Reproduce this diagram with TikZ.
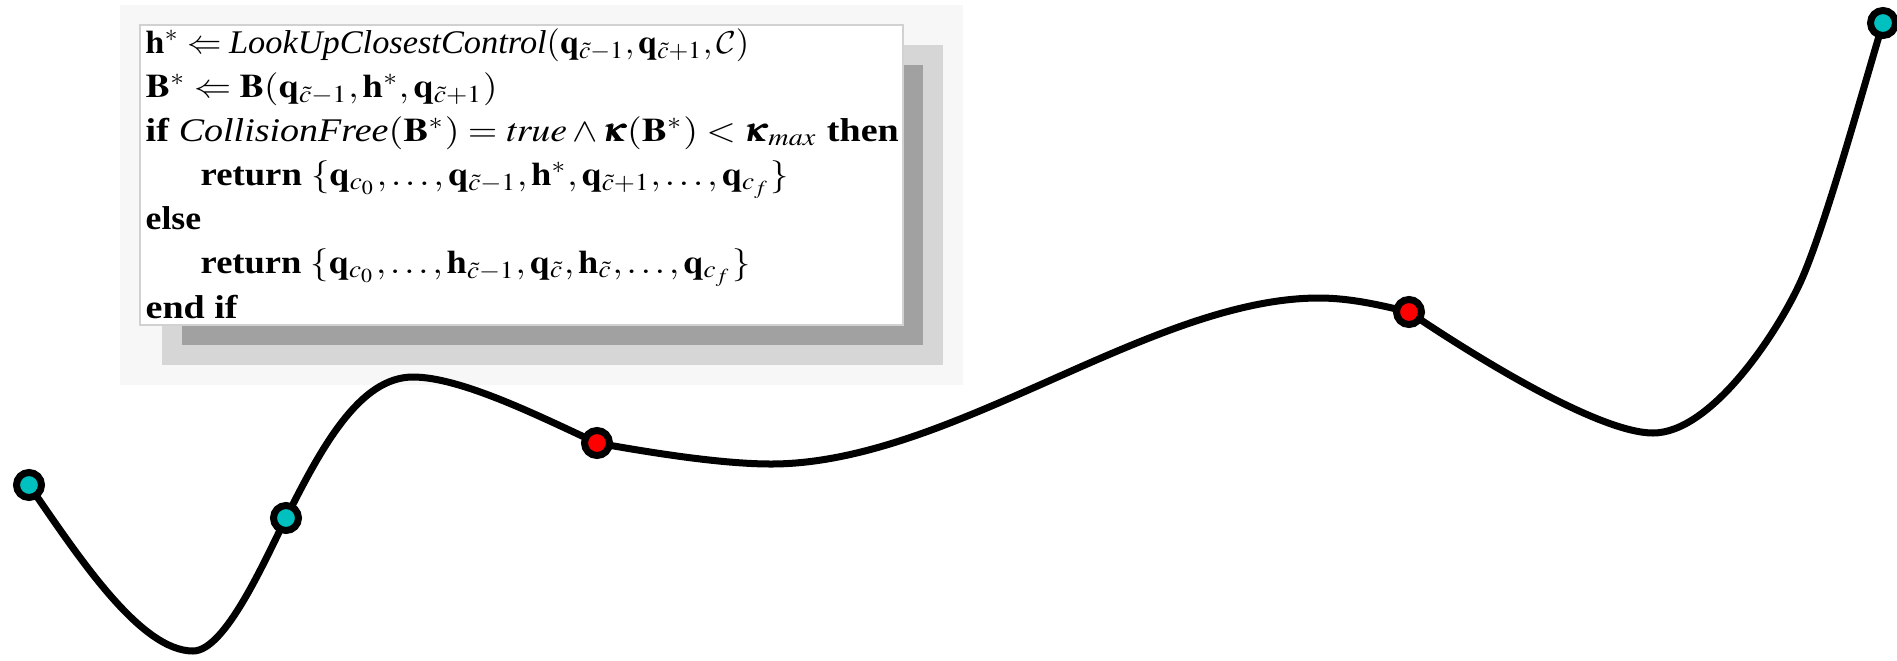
\documentclass[tikz,border=0pt]{standalone}
\usepackage{amsmath}
\usepackage{mathptmx}
\usepackage[no-math]{fontspec}
\setmainfont{Liberation Serif}
\DeclareMathAlphabet{\mathcal}{OMS}{cmsy}{m}{n}
\definecolor{dotcyan}{RGB}{0,192,192}
\definecolor{dotred}{RGB}{255,0,0}
\newcommand{\widen}[2]{\scalebox{#1}[1]{#2}}
\tikzset{
  ctrl/.style={circle,draw=black,line width=0.07cm,inner sep=0pt,minimum size=0.25cm},
  fixedctrl/.style={ctrl,fill=dotcyan},
  movedctrl/.style={ctrl,fill=dotred},
  algline/.style={anchor=base west,inner sep=0pt,font=\fontsize{9.4}{11}\selectfont},
  trajectory/.style={line width=0.07cm,line cap=round,line join=round}
}
\begin{document}
\begin{tikzpicture}[x=0.01cm,y=-0.01cm]
  \useasboundingbox (0,0) rectangle (1897,660);
  % shadow of the algorithm box
  \fill[black!3] (120,5) rectangle (963,385);
  \fill[black!16] (162,45) rectangle (943,365);
  \fill[black!37] (182,65) rectangle (923,345);
  \filldraw[fill=white,draw=black!18,line width=0.4pt] (140,25) rectangle (903,325);
  % algorithm lines
  \node[algline] (ln1) at (145,53) {\widen{1.04}{$\mathbf{h}^{*} \Leftarrow \textit{LookUpClosestControl}(\mathbf{q}_{\tilde{c}-1},\mathbf{q}_{\tilde{c}+1},\mathcal{C})$}};
  \node[algline] (ln2) at (145,97) {\widen{1.12}{$\mathbf{B}^{*} \Leftarrow \mathbf{B}(\mathbf{q}_{\tilde{c}-1},\mathbf{h}^{*},\mathbf{q}_{\tilde{c}+1})$}};
  \node[algline] (ln3) at (145,141) {\widen{1.15}{\textbf{if} $\textit{CollisionFree}(\mathbf{B}^{*})=\mathit{true}\wedge\pmb{\kappa}(\mathbf{B}^{*})<\pmb{\kappa}_{max}$ \textbf{then}}};
  \node[algline] (ln4) at (200,185) {\widen{1.11}{\textbf{return} $\{\mathbf{q}_{c_0},\ldots,\mathbf{q}_{\tilde{c}-1},\mathbf{h}^{*},\mathbf{q}_{\tilde{c}+1},\ldots,\mathbf{q}_{c_f}\}$}};
  \node[algline] (ln5) at (145,229) {\widen{1.08}{\textbf{else}}};
  \node[algline] (ln6) at (200,273) {\widen{1.105}{\textbf{return} $\{\mathbf{q}_{c_0},\ldots,\mathbf{h}_{\tilde{c}-1},\mathbf{q}_{\tilde{c}},\mathbf{h}_{\tilde{c}},\ldots,\mathbf{q}_{c_f}\}$}};
  \node[algline] (ln7) at (145,318) {\widen{1.15}{\textbf{end if}}};
  % control points
  \coordinate (c0) at (29,485);
  \coordinate (c1) at (286,518);
  \coordinate (c2) at (597,443);
  \coordinate (c3) at (1409,312);
  \coordinate (c4) at (1883,23);
  % curve pieces
  \draw[trajectory] (c0) .. controls (78,556) and (140,651) .. (193,651)
    .. controls (225,651) and (264,562) .. (c1);
  \draw[trajectory] (c1) .. controls (322,446) and (360,377) .. (413,377)
    .. controls (460,377) and (537,415) .. (c2);
  \draw[trajectory] (c2) .. controls (647,452) and (720,464) .. (771,464)
    .. controls (950,464) and (1150,298) .. (1319,298)
    .. controls (1350,298) and (1380,305) .. (c3);
  \draw[trajectory] (c3) .. controls (1480,360) and (1600,433) .. (1653,433)
    .. controls (1710,433) and (1775,337) .. (1800,283)
    .. controls (1825,229) and (1868,71) .. (c4);
  \node[fixedctrl] (dot0) at (c0) {};
  \node[fixedctrl] (dot1) at (c1) {};
  \node[movedctrl] (dot2) at (c2) {};
  \node[movedctrl] (dot3) at (c3) {};
  \node[fixedctrl] (dot4) at (c4) {};
\end{tikzpicture}
\end{document}
